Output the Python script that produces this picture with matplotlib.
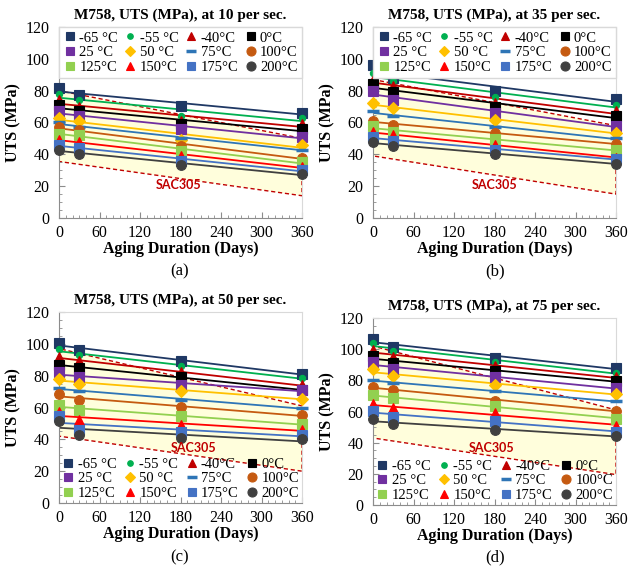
import numpy as np
import matplotlib
matplotlib.use("Agg")
import matplotlib.pyplot as plt
from matplotlib.lines import Line2D

days = [0, 30, 180, 360]
temps = ["-65 °C", "-55 °C", "-40°C", "0°C", "25 °C", "50 °C", "75°C", "100°C",
         "125°C", "150°C", "175°C", "200°C"]

# UTS values (MPa) for each temperature at days 0, 30, 180, 360
uts_10 = [
    [81.5, 77, 70.5, 66],
    [78, 74, 64, 63],
    [74, 70, 61, 59],
    [71, 67, 59, 56],
    [67, 64, 56, 51],
    [63, 61, 49, 46],
    [60, 57, 50, 43],
    [57, 55, 45, 38],
    [53, 52, 42, 35],
    [49, 48, 39, 32],
    [46, 44, 36, 30],
    [43, 40.5, 33.5, 27.5],
]
uts_35 = [
    [96, 88, 80, 74.5],
    [91, 86, 76, 71],
    [87, 83, 72, 67],
    [84, 79, 70, 64],
    [80, 74, 66, 58],
    [72, 69, 61.5, 53.5],
    [67, 64, 57, 50],
    [61, 58.5, 53.5, 46.5],
    [57.5, 54, 49.5, 42.5],
    [54, 52, 46, 38],
    [51, 48.5, 43, 37],
    [47.5, 45.5, 40.5, 34],
]
uts_50 = [
    [100.5, 96, 89.5, 81],
    [96.5, 93, 86, 78.5],
    [92, 89, 82, 74],
    [87, 85, 79, 71],
    [82, 79, 74, 71],
    [78, 75, 70.5, 65.5],
    [72, 70.5, 65, 59.5],
    [68.5, 64.5, 60.5, 55],
    [61.5, 58.5, 54.5, 49.5],
    [57, 52, 49, 46],
    [54.5, 46, 44.5, 43],
    [51.5, 43, 41, 40],
]
uts_75 = [
    [106.5, 101.5, 94.5, 88],
    [104, 99, 92, 85],
    [99.5, 95, 89, 82],
    [95.5, 91, 86, 79.5],
    [91.5, 87, 82, 75],
    [87, 82.5, 77, 71.5],
    [80.5, 78, 73, 66.5],
    [76, 73.5, 67, 60.5],
    [70.5, 68.5, 63.5, 55.5],
    [64.5, 62, 59, 51],
    [60.5, 56.5, 54, 47],
    [55, 52, 48, 44.5],
]

# SAC305 band: [value at day 0, value at day 360]
sac_days = [0, 360]
sac_top_10, sac_bot_10 = [80, 50], [35.5, 14]
sac_top_35, sac_bot_35 = [87, 58], [39, 15]
sac_top_50, sac_bot_50 = [97, 61], [42, 20]
sac_top_75, sac_bot_75 = [102, 61], [43, 19.5]

rates = ["10", "35", "50", "75"]
panel_tags = ["(a)", "(b)", "(c)", "(d)"]

colors = ["#1F3864", "#00B050", "#C00000", "#000000", "#7030A0", "#FFC000",
          "#2E75B6", "#C55A11", "#92D050", "#FF0000", "#4472C4", "#404040"]
markers = ["s", "o", "^", "s", "s", "D", "_", "o", "s", "^", "s", "o"]
msizes = [7, 4.5, 7, 7, 7, 6, 8, 7, 7, 7, 7, 7]
leg_sizes = [5.5, 4, 6, 6, 6, 5.5, 7, 6.5, 6, 6, 6, 6.5]

plt.rcParams["font.family"] = ["Liberation Serif", "DejaVu Serif"]

fig = plt.figure(figsize=(6.28, 5.79), dpi=100)
W, H = 628, 579
boxes = [(59, 27, 302, 218), (373, 27, 616, 218), (59, 312, 302, 503), (373, 318, 616, 505)]
datasets = [uts_10, uts_35, uts_50, uts_75]
sacs = [(sac_top_10, sac_bot_10), (sac_top_35, sac_bot_35),
        (sac_top_50, sac_bot_50), (sac_top_75, sac_bot_75)]
sac_text_pos = [(177, 21), (180, 21), (199, 34.5), (175, 36.5)]
tag_pos = [(180, 271), (495, 271), (180, 557), (495, 557)]

order = [0, 4, 8, 1, 5, 9, 2, 6, 10, 3, 7, 11]

for k in range(4):
    x0, y0, x1, y1 = boxes[k]
    ax = fig.add_axes([x0 / W, 1 - y1 / H, (x1 - x0) / W, (y1 - y0) / H])
    top, bot = sacs[k]
    ax.fill([sac_days[0], sac_days[0], sac_days[1], sac_days[1]],
            [bot[0], top[0], top[1], bot[1]],
            facecolor="#FFFEDC", edgecolor="#C00000", linestyle=(0, (3, 2)),
            linewidth=1.0, zorder=1)
    data = datasets[k]
    xd = np.array(days, dtype=float)
    xx = np.array([0, 360], dtype=float)
    for i in range(12):
        yv = np.array(data[i], dtype=float)
        p = np.polyfit(xd, yv, 1)
        ax.plot(xx, np.polyval(p, xx), color=colors[i], lw=1.3, zorder=2)
    for i in range(12):
        ax.plot(days, data[i], linestyle="none", marker=markers[i], ms=msizes[i],
                color=colors[i], mec=colors[i], mew=2.5 if markers[i] == "_" else 0.8,
                zorder=3, clip_on=False)
    tx, ty = sac_text_pos[k]
    ax.text(tx, ty, "SAC305", color="#C00000", fontsize=9, fontweight="bold",
            family=["Lato", "DejaVu Sans"], ha="center", va="center", zorder=4)
    ax.set_xlim(0, 360)
    ax.set_ylim(0, 120)
    ax.set_xticks(np.arange(0, 361, 60))
    ax.set_yticks(np.arange(0, 121, 20))
    ax.set_xticks(np.arange(0, 361, 10), minor=True)
    ax.set_yticks(np.arange(0, 121, 5), minor=True)
    ax.tick_params(which="major", direction="in", length=4, color="#8C8C8C",
                   labelsize=11.5)
    ax.tick_params(axis="x", which="major", pad=5)
    ax.tick_params(axis="y", which="major", pad=7)
    ax.tick_params(which="minor", direction="in", length=2.5, color="#8C8C8C")
    for s in ["left", "bottom"]:
        ax.spines[s].set_color("#8C8C8C")
    for s in ["right", "top"]:
        ax.spines[s].set_color("#D9D9D9")
    ax.set_title(f"M758, UTS (MPa), at {rates[k]} per sec.", fontsize=11,
                 fontweight="bold", pad=6)
    ax.set_xlabel("Aging Duration (Days)", fontsize=11.5, fontweight="bold", labelpad=0)
    ax.set_ylabel("UTS (MPa)", fontsize=11.5, fontweight="bold", labelpad=3)

    handles = []
    for i in range(12):
        handles.append(Line2D([], [], linestyle="none", marker=markers[i],
                              ms=leg_sizes[i], color=colors[i],
                              mew=2.5 if markers[i] == "_" else 0.8))
    hs = [handles[j] for j in order]
    ls = [temps[j] for j in order]
    if k < 2:
        leg = ax.legend(hs, ls, ncol=4, loc="upper left", bbox_to_anchor=(0, 0, 1, 1),
                        mode="expand", borderaxespad=0, frameon=True, fancybox=False,
                        edgecolor="#D9D9D9", facecolor="white", framealpha=1,
                        fontsize=10.5, handlelength=0.9, handletextpad=0.2,
                        labelspacing=0.1, columnspacing=0.3, borderpad=0.3)
    else:
        leg = ax.legend(hs, ls, ncol=4, loc="lower left", bbox_to_anchor=(0, 0, 1, 1),
                        mode="expand", borderaxespad=0, frameon=False,
                        fontsize=10.5, handlelength=0.9, handletextpad=0.2,
                        labelspacing=0.1, columnspacing=0.3, borderpad=0.2)
    leg.set_zorder(5)
    fig.text(tag_pos[k][0] / W, 1 - tag_pos[k][1] / H, panel_tags[k], fontsize=12,
             ha="center", va="center")

fig.savefig("out.png", dpi=100)
